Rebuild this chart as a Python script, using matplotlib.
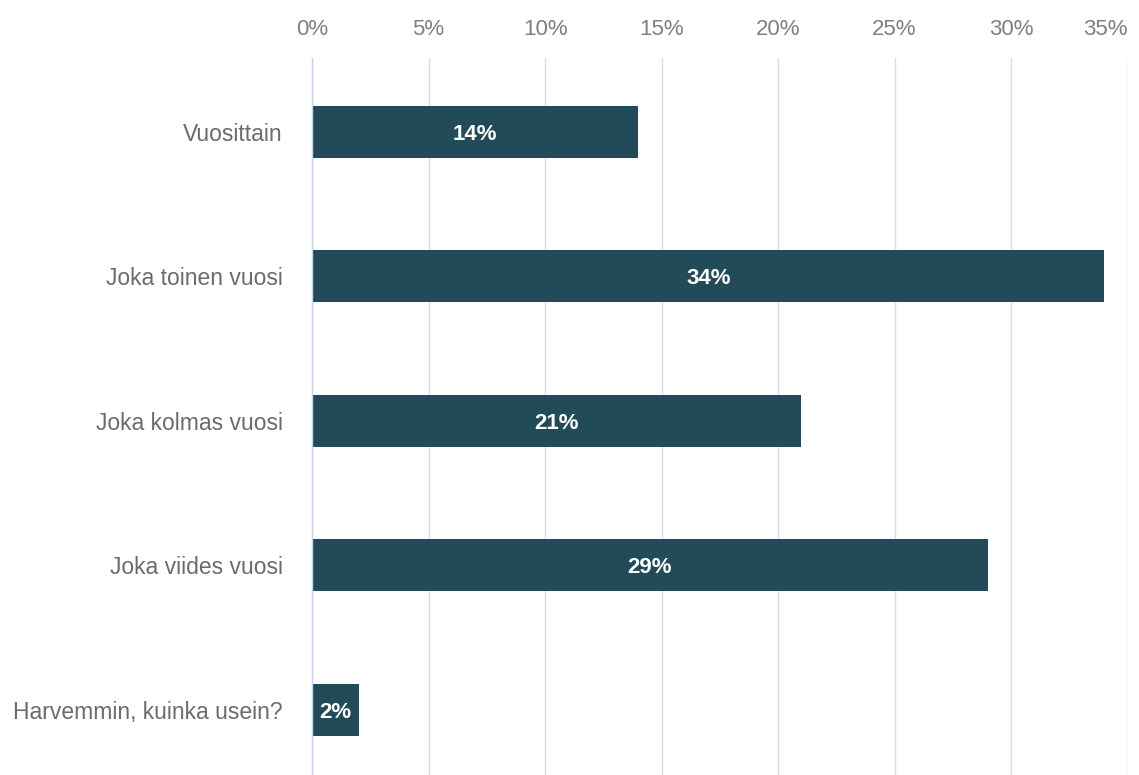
import matplotlib.pyplot as plt
from matplotlib.ticker import FuncFormatter

categories = ['Vuosittain', 'Joka toinen vuosi', 'Joka kolmas vuosi',
              'Joka viides vuosi', 'Harvemmin, kuinka usein?']
values = [14, 34, 21, 29, 2]
x_ticks = [0, 5, 10, 15, 20, 25, 30, 35]

plt.rcParams['font.family'] = ['Liberation Sans', 'DejaVu Sans']

bar_color = '#224b59'

fig = plt.figure(figsize=(11.39, 7.75), dpi=100)
ax = fig.add_axes([0.274, 0.0, 0.716, 0.925])

pos = list(range(len(categories)))
ax.barh(pos, values, height=0.36, color=bar_color, zorder=3)

for p, v in zip(pos, values):
    ax.text(v / 2, p, f'{v}%', ha='center', va='center_baseline', color='white',
            fontsize=16, fontweight='bold', zorder=4)

ax.set_xlim(0, 35)
ax.set_ylim(4.45, -0.51)
ax.set_xticks(x_ticks)
ax.xaxis.set_major_formatter(FuncFormatter(lambda x, _: f'{x:.0f}%'))
ax.xaxis.tick_top()
ax.tick_params(axis='x', length=0, pad=13, labelsize=16, labelcolor='#7f7f7f')
ax.tick_params(axis='y', length=0, pad=21, labelsize=16.5, labelcolor='#6b6b6b')
ax.set_yticks(pos)
ax.set_yticklabels(categories)

# keep the last percentage inside the figure
xlabels = ax.get_xticklabels()
xlabels[-1].set_ha('right')

ax.grid(axis='x', color='#dcdcdc', linewidth=1, zorder=0)
for side in ['top', 'right', 'bottom']:
    ax.spines[side].set_visible(False)
ax.spines['left'].set_color('#c5d3ef')
ax.spines['left'].set_linewidth(1)
ax.spines['left'].set_zorder(5)

fig.savefig('out.png', dpi=100)
